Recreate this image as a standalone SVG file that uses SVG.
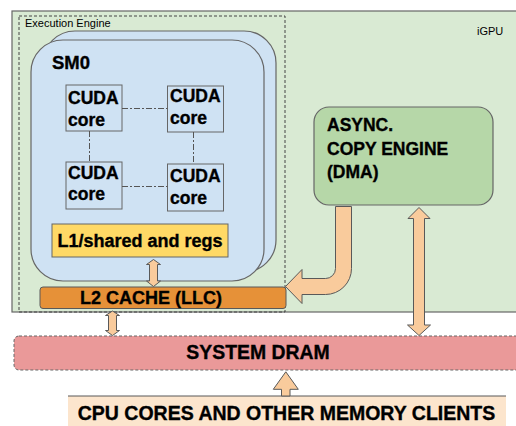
<svg xmlns="http://www.w3.org/2000/svg" width="516" height="426" viewBox="0 0 516 426">
<style>
text{font-family:"Liberation Sans",Arial,sans-serif;fill:#000}
.b{font-weight:bold;stroke:#000;stroke-width:0.35}
.core{fill:#cfe2f3;stroke:#666;stroke-width:1}
.link{stroke:#555;stroke-width:1;stroke-dasharray:6,2,2,2;fill:none}
.arr{fill:#f9cb9c;stroke:#595959;stroke-width:1;stroke-linejoin:miter}
</style>
<rect width="516" height="426" fill="#fff"/>
<g id="igpu">
<rect x="12" y="11" width="520" height="301" fill="#d9ead3" stroke="#666" stroke-width="1.2"/>
<text x="477" y="35" font-size="11">iGPU</text>
</g>
<g id="execution-engine">
<rect x="19" y="16" width="266" height="296" fill="none" stroke="#444" stroke-width="1" stroke-dasharray="3,2"/>
<text x="25" y="27" font-size="11">Execution Engine</text>
</g>
<g id="sm">
<rect x="43" y="31" width="233" height="241" rx="32" fill="#cfe2f3" stroke="#666" stroke-width="1.2"/>
<rect x="31" y="40" width="233" height="241" rx="32" fill="#cfe2f3" stroke="#666" stroke-width="1.2"/>
<text class="b" x="52" y="69" font-size="18.5">SM0</text>
</g>
<g id="core1"><rect class="core" x="66" y="85" width="56" height="46"/><text class="b" x="68" y="104" font-size="17.5">CUDA</text><text class="b" x="68" y="126" font-size="17.5">core</text></g>
<g id="core2"><rect class="core" x="167.5" y="86" width="56" height="46"/><text class="b" x="170" y="101.5" font-size="17.5">CUDA</text><text class="b" x="170" y="124" font-size="17.5">core</text></g>
<g id="core3"><rect class="core" x="66" y="162" width="56" height="47"/><text class="b" x="68" y="178.5" font-size="17.5">CUDA</text><text class="b" x="68" y="200" font-size="17.5">core</text></g>
<g id="core4"><rect class="core" x="167.5" y="164" width="56" height="47"/><text class="b" x="170" y="181.5" font-size="17.5">CUDA</text><text class="b" x="170" y="203.5" font-size="17.5">core</text></g>
<g id="l1">
<rect x="52" y="224" width="176" height="33" fill="#ffd966" stroke="#666" stroke-width="1"/>
<text class="b" x="140" y="246.5" font-size="18" text-anchor="middle">L1/shared and regs</text>
</g>
<g id="async-copy-engine">
<rect x="314" y="107" width="179" height="98" rx="15" fill="#b6d7a8" stroke="#666" stroke-width="1.2"/>
<text class="b" x="327" y="131" font-size="17.5">ASYNC.</text>
<text class="b" x="327" y="155" font-size="17.5">COPY ENGINE</text>
<text class="b" x="327" y="178" font-size="17.5">(DMA)</text>
</g>
<g id="l2">
<rect x="40" y="287" width="246" height="21.5" rx="3" fill="#e69138" stroke="#595959" stroke-width="1"/>
<text class="b" x="151" y="304" font-size="18" text-anchor="middle">L2 CACHE (LLC)</text>
</g>
<g id="system-dram">
<rect x="14" y="336" width="520" height="34" rx="5" fill="#ea9999" stroke="#666" stroke-width="1" stroke-dasharray="3,2"/>
<text class="b" x="258" y="358.5" font-size="19.4" text-anchor="middle">SYSTEM DRAM</text>
</g>
<g id="cpu">
<rect x="68" y="396" width="438" height="32" fill="#fce5cd"/>
<line x1="68" y1="396" x2="506" y2="396" stroke="#595959" stroke-width="1"/>
<text class="b" x="286.5" y="419.5" font-size="19.5" text-anchor="middle">CPU CORES AND OTHER MEMORY CLIENTS</text>
</g>
<g id="connectors">
<line class="link" x1="122" y1="108.5" x2="167.5" y2="108.5"/>
<line class="link" x1="89.5" y1="131" x2="89.5" y2="162"/>
<line class="link" x1="193.5" y1="132" x2="193.5" y2="164"/>
<line class="link" x1="122" y1="186.5" x2="167.5" y2="186.5"/>
<path class="arr" d="M153.5,259.5 L160.5,264.5 L157.5,264.5 L157.5,281 L160.5,281 L153.5,286.5 L146.5,281 L149.5,281 L149.5,264.5 L146.5,264.5 Z"/>
<path class="arr" d="M112.5,311 L119.5,315.5 L116.5,315.5 L116.5,330.5 L119.5,330.5 L112.5,335.5 L105.5,330.5 L108.5,330.5 L108.5,315.5 L105.5,315.5 Z"/>
<path class="arr" d="M419,207.5 L430,218.5 L424.5,218.5 L424.5,325 L430.5,325 L419,335.5 L407.5,325 L413.5,325 L413.5,218.5 L408,218.5 Z"/>
<path class="arr" d="M335.5,206.5 L351.5,206.5 L351.5,268.5 A26,26 0 0 1 325.5,294.5 L302,294.5 L302,303.5 L285.5,286.5 L302,269.5 L302,278.5 L325.5,278.5 A10,10 0 0 0 335.5,268.5 Z"/>
<path class="arr" d="M285.8,371.8 L298.3,389.3 L290,389.3 L290,396 L281.5,396 L281.5,389.3 L273.3,389.3 Z"/>
</g>
</svg>
